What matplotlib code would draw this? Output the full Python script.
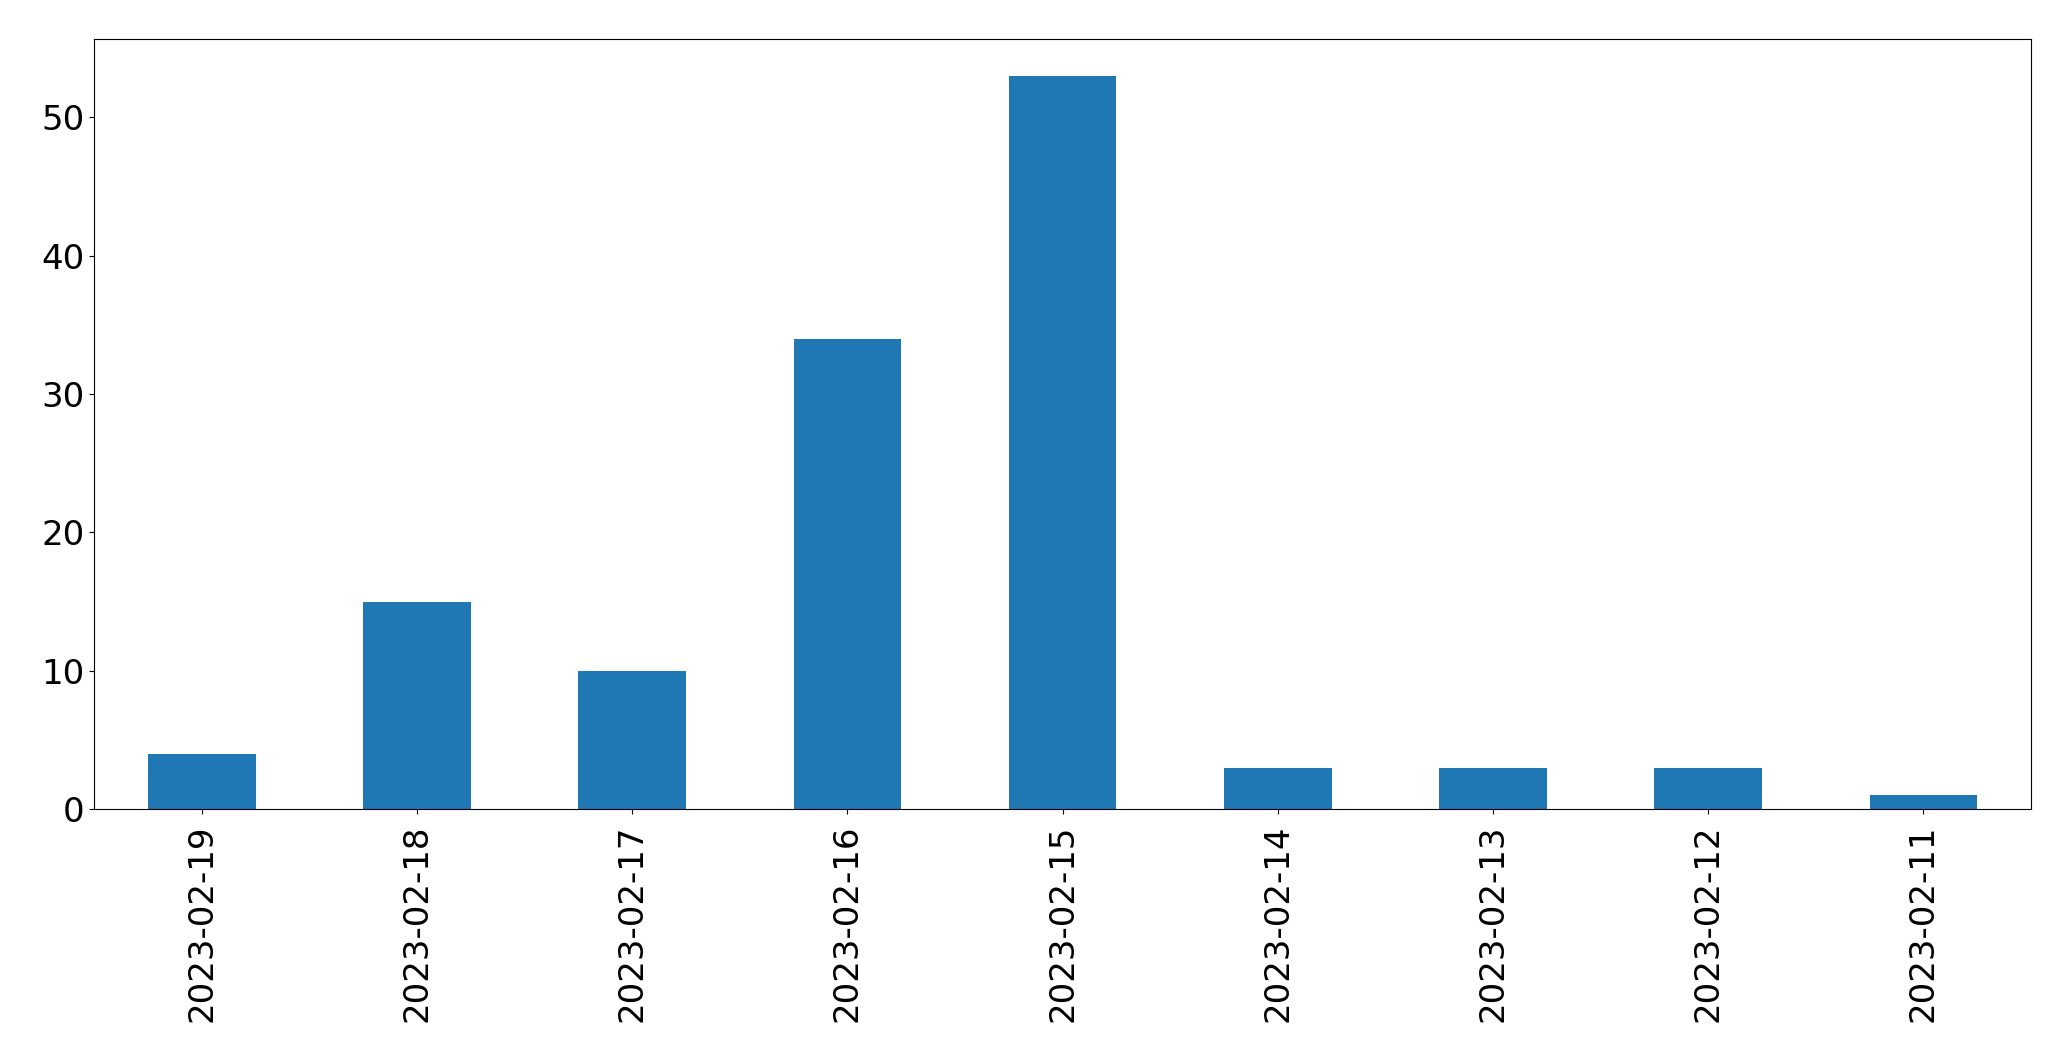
import matplotlib
matplotlib.use("Agg")
import matplotlib.pyplot as plt
import numpy as np

dates = ["2023-02-19", "2023-02-18", "2023-02-17", "2023-02-16", "2023-02-15",
         "2023-02-14", "2023-02-13", "2023-02-12", "2023-02-11"]
counts = [4, 15, 10, 34, 53, 3, 3, 3, 1]

W, H = 2071, 1061
fig = plt.figure(figsize=(W / 100, H / 100), dpi=100)
left, right, top, bottom = 94.3, 2031, 39.3, 809
ax = fig.add_axes([left / W, (H - bottom) / H, (right - left) / W, (bottom - top) / H])

x = np.arange(len(dates))
ax.bar(x, counts, width=0.5, color="#1f77b4")
ax.set_xlim(-0.5, len(dates) - 0.5)
ax.set_ylim(0, max(counts) * 1.05)
ax.set_xticks(x)
ax.set_xticklabels(dates, rotation=90)
ax.set_yticks([0, 10, 20, 30, 40, 50])
ax.tick_params(labelsize=24.5)
ax.tick_params(axis="x", pad=7.5)

fig.savefig("out.png", dpi=100)
